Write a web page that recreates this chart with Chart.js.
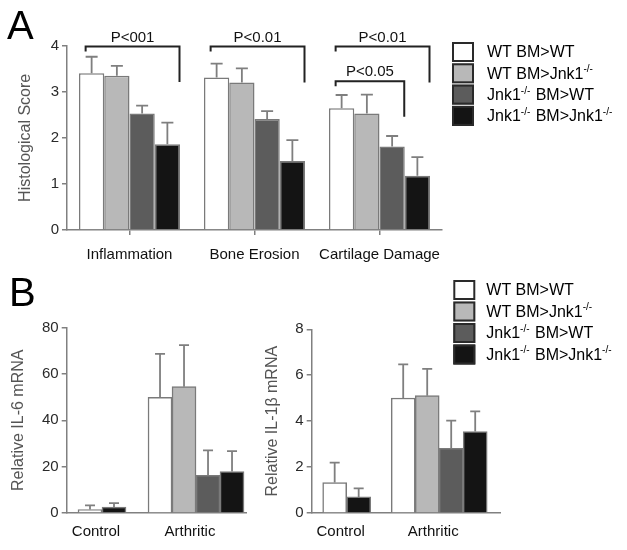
<!DOCTYPE html>
<html><head><meta charset="utf-8">
<script src="https://cdn.jsdelivr.net/npm/chart.js@4/dist/chart.umd.min.js"></script>
<style>
html,body{margin:0;padding:0;background:#fff;}
#wrap{position:relative;width:627px;height:550px;overflow:hidden;background:#fff;}
.panel{position:absolute;}
.letter{position:absolute;font-family:"Liberation Sans",Arial,sans-serif;font-size:40px;line-height:40px;color:#000;}
</style></head><body>
<div id="wrap">
 <div class="panel" style="left:0;top:0;"><canvas id="cA" width="627" height="275"></canvas></div>
 <div class="panel" style="left:0;top:270px;"><canvas id="cB1" width="300" height="280"></canvas></div>
 <div class="panel" style="left:240px;top:270px;"><canvas id="cB2" width="387" height="280"></canvas></div>
 <div class="letter" style="left:7px;top:5px">A</div>
 <div class="letter" style="left:9px;top:272px">B</div>
</div>
<script>
// ---------- DATA ----------
const groupNames = ['WT BM>WT', 'WT BM>Jnk1-/-', 'Jnk1-/- BM>WT', 'Jnk1-/- BM>Jnk1-/-'];

// Panel A: histological scores
const scoreCategories = ['Inflammation', 'Bone Erosion', 'Cartilage Damage'];
const scoreTicks = [0, 1, 2, 3, 4];
const scoreWtWt = [3.40, 3.31, 2.64];
const scoreWtKo = [3.35, 3.20, 2.53];
const scoreKoWt = [2.53, 2.41, 1.81];
const scoreKoKo = [1.86, 1.50, 1.18];
const scoreWtWtErr = [0.36, 0.30, 0.29];
const scoreWtKoErr = [0.21, 0.31, 0.41];
const scoreKoWtErr = [0.17, 0.17, 0.23];
const scoreKoKoErr = [0.47, 0.45, 0.40];
const pBrackets = [
  {cat: 0, from: 0, to: 3, level: 3.98, drop: 3.21, label: 'P<001'},
  {cat: 1, from: 0, to: 3, level: 3.98, drop: 3.20, label: 'P<0.01'},
  {cat: 2, from: 0, to: 3, level: 3.98, drop: 3.20, label: 'P<0.01'},
  {cat: 2, from: 0, to: 2, level: 3.23, drop: 2.46, label: 'P<0.05'}
];

// Panel B: mRNA
const mrnaCategories = ['Control', 'Arthritic'];
const il6Ticks = [0, 20, 40, 60, 80];
const il6WtWt = [1.5, 49.9];
const il6WtKo = [null, 54.5];
const il6KoWt = [null, 16.2];
const il6KoKo = [2.6, 17.9];
const il6WtWtErr = [1.8, 18.7];
const il6WtKoErr = [null, 17.9];
const il6KoWtErr = [null, 10.8];
const il6KoKoErr = [1.7, 8.8];

const il1Ticks = [0, 2, 4, 6, 8];
const il1WtWt = [1.33, 5.01];
const il1WtKo = [null, 5.11];
const il1KoWt = [null, 2.82];
const il1KoKo = [0.70, 3.55];
const il1WtWtErr = [0.86, 1.46];
const il1WtKoErr = [null, 1.17];
const il1KoWtErr = [null, 1.20];
const il1KoKoErr = [0.37, 0.88];

// ---------- STYLE ----------
const FONT = '"Liberation Sans", Arial, sans-serif';
const FILLS = ['#ffffff', '#b8b8b8', '#5c5c5c', '#141414'];
const AXIS = '#808080';

// ---------- PLUGINS ----------
const valOf = d => (d !== null && typeof d === 'object') ? d.y : d;

const errorBarPlugin = {
  id: 'errorBars',
  afterDatasetsDraw(chart, args, o) {
    const ctx = chart.ctx, ys = chart.scales.y;
    ctx.save();
    ctx.strokeStyle = o.color; ctx.lineWidth = o.width;
    chart.data.datasets.forEach((ds, i) => {
      const meta = chart.getDatasetMeta(i);
      meta.data.forEach((bar, j) => {
        const v = valOf(ds.data[j]); const e = ds.errorBars ? ds.errorBars[j] : null;
        if (v === null || v === undefined || e === null || e === undefined) return;
        const yt = ys.getPixelForValue(v + e);
        ctx.beginPath();
        ctx.moveTo(bar.x, bar.y); ctx.lineTo(bar.x, yt);
        ctx.moveTo(bar.x - o.cap / 2, yt); ctx.lineTo(bar.x + o.cap / 2, yt);
        ctx.stroke();
      });
    });
    ctx.restore();
  }
};

const bracketPlugin = {
  id: 'brackets',
  afterDraw(chart, args, o) {
    if (!o.items) return;
    const ctx = chart.ctx, ys = chart.scales.y;
    ctx.save();
    ctx.strokeStyle = o.color; ctx.lineWidth = o.width; ctx.fillStyle = o.textColor;
    ctx.font = o.font; ctx.textAlign = 'center'; ctx.textBaseline = 'alphabetic';
    o.items.forEach(b => {
      const bf = chart.getDatasetMeta(b.from).data[b.cat];
      const bt = chart.getDatasetMeta(b.to).data[b.cat];
      const x1 = bf.x - o.leftInset, x2 = bt.x + bt.width / 2 - 0.5;
      const yTop = ys.getPixelForValue(b.level), yDrop = ys.getPixelForValue(b.drop);
      ctx.beginPath();
      ctx.moveTo(x1, yTop + o.leftLeg); ctx.lineTo(x1, yTop); ctx.lineTo(x2, yTop); ctx.lineTo(x2, yDrop);
      ctx.stroke();
      ctx.fillText(b.label, (x1 + x2) / 2, yTop - o.textGap);
    });
    ctx.restore();
  }
};

function drawSupLabel(ctx, text, x, y, size) {
  const parts = text.split(/(-\/-)/).filter(p => p.length);
  let cx = x;
  parts.forEach(p => {
    if (p === '-/-') {
      ctx.font = Math.round(size * 0.62) + 'px ' + FONT;
      ctx.fillText(p, cx, y - size * 0.3);
      cx += ctx.measureText(p).width + 1;
    } else {
      ctx.font = size + 'px ' + FONT;
      ctx.fillText(p, cx, y);
      cx += ctx.measureText(p).width;
    }
  });
}

const sideLegendPlugin = {
  id: 'sideLegend',
  afterDraw(chart, args, o) {
    if (!o.show) return;
    const ctx = chart.ctx;
    ctx.save();
    chart.data.datasets.forEach((ds, i) => {
      const top = o.y + i * o.step;
      ctx.fillStyle = ds.backgroundColor;
      ctx.fillRect(o.x, top, o.boxW, o.boxH);
      ctx.strokeStyle = o.boxBorder; ctx.lineWidth = o.boxBorderWidth;
      ctx.strokeRect(o.x + o.boxBorderWidth / 2, top + o.boxBorderWidth / 2, o.boxW - o.boxBorderWidth, o.boxH - o.boxBorderWidth);
      ctx.fillStyle = o.textColor; ctx.textAlign = 'left'; ctx.textBaseline = 'middle';
      drawSupLabel(ctx, ds.label, o.x + o.textX, top + o.boxH / 2 + 1, o.fontSize);
    });
    ctx.restore();
  }
};

// ---------- HELPERS ----------
function yAxis(ticks, title, width, titlePad) {
  return {
    min: ticks[0], max: ticks[ticks.length - 1],
    afterBuildTicks: s => { s.ticks = ticks.map(v => ({value: v})); },
    afterFit: s => { s.width = width; },
    grid: {drawOnChartArea: false, drawTicks: true, tickLength: 5, color: AXIS, lineWidth: 1.5},
    border: {display: true, color: AXIS, width: 1.5},
    ticks: {font: {family: FONT, size: 15}, color: '#2a2a2a', padding: 3},
    title: {display: true, text: title, color: '#555', font: {family: FONT, size: 16}, padding: {top: titlePad, bottom: 0}}
  };
}

function pointsOf(arr) { return arr.map((v, i) => ({x: i, y: v})); }

// ---------- PANEL A ----------
const scoreSeries = [scoreWtWt, scoreWtKo, scoreKoWt, scoreKoKo];
const scoreErrors = [scoreWtWtErr, scoreWtKoErr, scoreKoWtErr, scoreKoKoErr];

new Chart(document.getElementById('cA'), {
  type: 'bar',
  data: {
    labels: scoreCategories,
    datasets: groupNames.map((name, k) => ({
      label: name, data: scoreSeries[k], errorBars: scoreErrors[k],
      backgroundColor: FILLS[k], borderColor: '#7a7a7a', borderWidth: 1.5,
      categoryPercentage: 0.808, barPercentage: 1
    }))
  },
  options: {
    responsive: false, animation: false, events: [],
    layout: {padding: {left: 0, right: 185, top: 45.7, bottom: 0}},
    plugins: {
      legend: {display: false}, tooltip: {enabled: false},
      errorBars: {color: '#7f7f7f', width: 1.8, cap: 12},
      brackets: {items: pBrackets, color: '#222', width: 2, textColor: '#111', font: '15px ' + FONT, leftInset: 6, leftLeg: 5, textGap: 5},
      sideLegend: {show: true, x: 452, y: 42, step: 21.3, boxW: 22, boxH: 20, boxBorder: '#2a2a2a', boxBorderWidth: 2, textX: 35, fontSize: 16, textColor: '#000'}
    },
    scales: {
      x: {
        afterFit: s => { s.height = 45; },
        grid: {display: true, drawOnChartArea: false, drawTicks: true, tickLength: 5, offset: false, color: AXIS, lineWidth: 1.5},
        border: {display: true, color: AXIS, width: 1.5},
        ticks: {font: {family: FONT, size: 15}, color: '#111', padding: 11, maxRotation: 0, autoSkip: false}
      },
      y: yAxis(scoreTicks, 'Histological Score', 67, 16.4)
    }
  },
  plugins: [errorBarPlugin, bracketPlugin, sideLegendPlugin]
});

// ---------- PANEL B ----------
function mrnaChart(id, series, errors, ticks, title, yWidth, titlePad, padRight, padTop, xMin, xMax, legendOpts) {
  return new Chart(document.getElementById(id), {
    type: 'bar',
    data: {
      datasets: groupNames.map((name, k) => ({
        label: name, data: pointsOf(series[k]), errorBars: errors[k],
        backgroundColor: FILLS[k], borderColor: '#7a7a7a', borderWidth: 1.5,
        barThickness: 24
      }))
    },
    options: {
      responsive: false, animation: false, events: [], skipNull: true,
      layout: {padding: {left: 0, right: padRight, top: padTop, bottom: 0}},
      plugins: {
        legend: {display: false}, tooltip: {enabled: false},
        errorBars: {color: '#7f7f7f', width: 1.8, cap: 10},
        sideLegend: legendOpts
      },
      scales: {
        x: {
          type: 'linear', min: xMin, max: xMax, offset: false,
          afterBuildTicks: s => { s.ticks = mrnaCategories.map((c, i) => ({value: i})); },
          afterFit: s => { s.height = 37; },
          grid: {display: false, drawTicks: false},
          border: {display: true, color: AXIS, width: 1.5},
          ticks: {font: {family: FONT, size: 15}, color: '#111', padding: 10, autoSkip: false, maxRotation: 0, labelOffset: -6,
                  callback: v => mrnaCategories[v]}
        },
        y: yAxis(ticks, title, yWidth, titlePad)
      }
    },
    plugins: [errorBarPlugin, sideLegendPlugin]
  });
}

mrnaChart('cB1', [il6WtWt, il6WtKo, il6KoWt, il6KoKo], [il6WtWtErr, il6WtKoErr, il6KoWtErr, il6KoKoErr],
  il6Ticks, 'Relative IL-6 mRNA', 66.7, 9.4, 53.3, 57.5, -0.3755, 1.539, {show: false});

mrnaChart('cB2', [il1WtWt, il1WtKo, il1KoWt, il1KoKo], [il1WtWtErr, il1WtKoErr, il1KoWtErr, il1KoKoErr],
  il1Ticks, 'Relative IL-1β mRNA', 71.7, 22.9, 127, 59.3, -0.378, 1.657,
  {show: true, x: 213.3, y: 10, step: 21.5, boxW: 22, boxH: 20, boxBorder: '#2a2a2a', boxBorderWidth: 2, textX: 33, fontSize: 16, textColor: '#000'});
</script>
</body></html>
